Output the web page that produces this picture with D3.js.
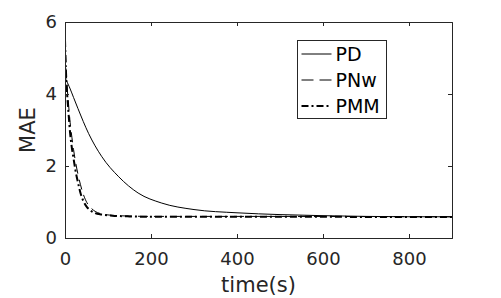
<!DOCTYPE html>
<html>
<head>
<meta charset="utf-8">
<script src="https://cdn.jsdelivr.net/npm/d3@7"></script>
<style>
  body { margin: 0; background: #fff; }
  text { font-family: "DejaVu Sans", sans-serif; }
</style>
</head>
<body>
<div id="chart"></div>
<script>
// values
var timePD  = [0, 10, 20, 30, 55, 85, 125, 170, 225, 300, 400, 500, 600, 700, 800, 900];
var maePD   = [4.45, 4.2, 3.9, 3.6, 2.9, 2.27, 1.7, 1.25, 0.97, 0.79, 0.7, 0.65, 0.62, 0.6, 0.59, 0.59];

var timePNw = [0, 2, 5, 8, 12, 16, 20, 24, 30, 36, 43, 51, 60, 70, 85, 110, 150, 200, 400, 900];
var maePNw  = [5.6, 4.85, 4.2, 3.75, 3.2, 2.8, 2.45, 2.15, 1.78, 1.48, 1.2, 0.98, 0.84, 0.74, 0.67, 0.63, 0.61, 0.6, 0.6, 0.59];

var timePMM = [0, 2, 5, 8, 12, 16, 20, 24, 30, 36, 43, 51, 60, 70, 85, 110, 150, 200, 400, 900];
var maePMM  = [5.5, 4.7, 4.0, 3.5, 2.9, 2.5, 2.2, 1.9, 1.55, 1.25, 1.02, 0.86, 0.76, 0.69, 0.65, 0.62, 0.6, 0.59, 0.59, 0.58];

var seriesNames = ['PD', 'PNw', 'PMM'];
var xTicks = [0, 200, 400, 600, 800];
var yTicks = [0, 2, 4, 6];

var width = 501, height = 298;
var margin = {left: 65, right: 49, top: 22, bottom: 60};

var svg = d3.select('#chart').append('svg')
    .attr('width', width)
    .attr('height', height);

var x = d3.scaleLinear().domain([0, 900]).range([margin.left, width - margin.right]);
var y = d3.scaleLinear().domain([0, 6]).range([height - margin.bottom, margin.top]);

var styles = [
    {dash: null, w: 1, color: '#000'},
    {dash: '10,6', w: 1, color: '#000'},
    {dash: '7,3,2,3', w: 2, color: '#000'}
];

var allData = [
    d3.zip(timePD, maePD),
    d3.zip(timePNw, maePNw),
    d3.zip(timePMM, maePMM)
];

var line = d3.line()
    .x(function (d) { return x(d[0]); })
    .y(function (d) { return y(d[1]); })
    .curve(d3.curveMonotoneX);

svg.append('clipPath').attr('id', 'clip').append('rect')
    .attr('x', x(0)).attr('y', y(6))
    .attr('width', x(900) - x(0)).attr('height', y(0) - y(6));

var plot = svg.append('g').attr('clip-path', 'url(#clip)');
for (var i = 0; i < allData.length; i++) {
    plot.append('path')
        .attr('d', line(allData[i]))
        .attr('fill', 'none')
        .attr('stroke', styles[i].color)
        .attr('stroke-width', styles[i].w)
        .attr('stroke-dasharray', styles[i].dash);
}

// axes with inward ticks
var tickCol = '#262626';
var xAxis = svg.append('g')
    .attr('transform', 'translate(0,' + y(0) + ')')
    .call(d3.axisBottom(x).tickValues(xTicks).tickSize(-4).tickPadding(14).tickFormat(d3.format('d')));
var xAxisTop = svg.append('g')
    .attr('transform', 'translate(0,' + y(6) + ')')
    .call(d3.axisTop(x).tickValues(xTicks).tickSize(-4).tickFormat(''));
var yAxis = svg.append('g')
    .attr('transform', 'translate(' + x(0) + ',0)')
    .call(d3.axisLeft(y).tickValues(yTicks).tickSize(-4).tickPadding(8).tickFormat(d3.format('d')));
var yAxisRight = svg.append('g')
    .attr('transform', 'translate(' + x(900) + ',0)')
    .call(d3.axisRight(y).tickValues(yTicks).tickSize(-4).tickFormat(''));

[xAxis, xAxisTop, yAxis, yAxisRight].forEach(function (a) {
    a.select('.domain').attr('stroke', tickCol).attr('stroke-width', 1);
    a.selectAll('.tick line').attr('stroke', tickCol);
    a.selectAll('.tick text')
        .attr('fill', tickCol)
        .style('font-size', '18px')
        .style('font-family', 'DejaVu Sans');
});

svg.append('text')
    .attr('x', (x(0) + x(900)) / 2)
    .attr('y', 292)
    .attr('text-anchor', 'middle')
    .attr('fill', tickCol)
    .style('font-size', '21px')
    .text('time(s)');

svg.append('text')
    .attr('transform', 'translate(35,' + (y(0) + y(6)) / 2 + ') rotate(-90)')
    .attr('text-anchor', 'middle')
    .attr('fill', tickCol)
    .style('font-size', '21px')
    .text('MAE');

// legend
var lg = svg.append('g').attr('transform', 'translate(297.5,40.5)');
lg.append('rect')
    .attr('width', 89).attr('height', 78)
    .attr('fill', '#fff')
    .attr('stroke', tickCol)
    .attr('stroke-width', 1);
for (var k = 0; k < seriesNames.length; k++) {
    var ly = 13.5 + k * 26;
    lg.append('line')
        .attr('x1', 4).attr('x2', 34)
        .attr('y1', ly).attr('y2', ly)
        .attr('stroke', styles[k].color)
        .attr('stroke-width', styles[k].w)
        .attr('stroke-dasharray', k === 1 ? '12,6' : styles[k].dash);
    lg.append('text')
        .attr('x', 38).attr('y', ly + 7)
        .attr('fill', '#000')
        .style('font-size', '19px')
        .text(seriesNames[k]);
}
</script>
</body>
</html>
